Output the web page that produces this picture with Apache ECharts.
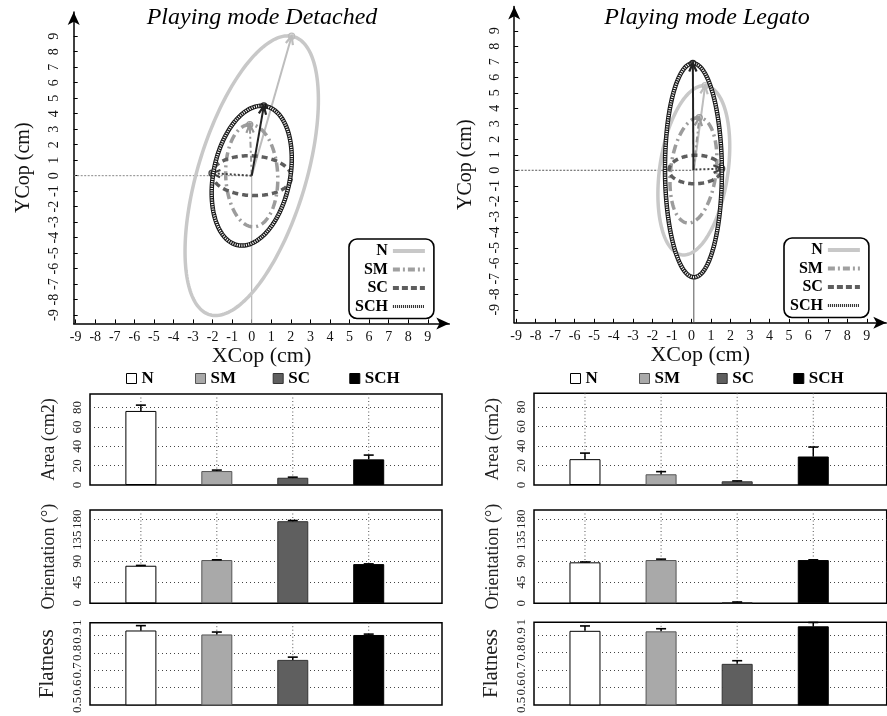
<!DOCTYPE html>
<html><head><meta charset="utf-8">
<script src="https://cdn.jsdelivr.net/npm/echarts@6/dist/echarts.min.js"></script>
<style>html,body{margin:0;padding:0;background:#fff}#c{width:887px;height:716px}</style>
</head><body><div id="c"></div>
<script>
// ---------------- data ----------------
const seriesNames = ['N', 'SM', 'SC', 'SCH'];
const copTicks = [-9, -8, -7, -6, -5, -4, -3, -2, -1, 0, 1, 2, 3, 4, 5, 6, 7, 8, 9];
// ellipse rows: [centreX, centreY, semiMajorX, semiMajorY, semiMinor]  (cm)
const ellipseDetached = [
  [0, 0, 2.04, 9.0, 2.8],
  [0, 0, -0.1, 3.3, 1.33],
  [0, 0, -2.03, 0.16, 1.28],
  [0, 0, 0.62, 4.5, 1.97]
];
const ellipseLegato = [
  [0.12, 0, 0.58, 5.46, 1.76],
  [0.1, 0, 0.3, 3.4, 1.17],
  [0.2, 0.05, 1.35, 0.05, 0.92],
  [0.1, 0, -0.03, 6.9, 1.46]
];
const categoryPos = [1, 2, 3, 4];
const areaDetached = [76.5, 14.4, 7.5, 26.5];
const areaDetachedSD = [6, 1, 0.6, 4.4];
const areaLegato = [26.5, 11, 3.8, 29.2];
const areaLegatoSD = [6.2, 2.7, 0.4, 9.7];
const orientDetached = [80.5, 92.7, 176, 84];
const orientDetachedSD = [0.7, 0.5, 1.5, 0.5];
const orientLegato = [87.8, 92.7, 2, 92.7];
const orientLegatoSD = [0.8, 2, 0.8, 0.5];
const flatDetached = [0.93, 0.907, 0.76, 0.904];
const flatDetachedSD = [0.028, 0.014, 0.016, 0.005];
const flatLegato = [0.926, 0.923, 0.736, 0.952];
const flatLegatoSD = [0.028, 0.015, 0.018, 0.022];
const flatTickLabels = ['0.5', '0.6', '0.7', '0.8', '0.9', '1'];
const panelTitles = ['Playing mode Detached', 'Playing mode Legato'];

// ---------------- styles ----------------
const SERIF = "'Liberation Serif', serif";
const ellStyles = [
  {color: '#c8c8c8', width: 3.5, dash: null, arrow: '#bdbdbd', adash: null},
  {color: '#9c9c9c', width: 3.5, dash: [9, 4, 2, 4], arrow: '#999', adash: [6, 3, 2, 3]},
  {color: '#5e5e5e', width: 3.5, dash: [6, 4], arrow: '#444', adash: [2, 2]},
  {hatch: true, arrow: '#222', adash: null}
];
const barStyles = [
  {color: '#ffffff', borderColor: '#000', borderWidth: 1},
  {color: '#a9a9a9', borderColor: '#555', borderWidth: 1},
  {color: '#5f5f5f', borderColor: '#333', borderWidth: 1},
  {color: '#000000', borderColor: '#000', borderWidth: 1}
];

function ellipseRender(params, api) {
  const cx = api.value(0), cy = api.value(1), ax = api.value(2), ay = api.value(3), b = api.value(4);
  const a = Math.hypot(ax, ay);
  const ux = ax / a, uy = ay / a, vx = -uy, vy = ux;
  const pts = [];
  for (let k = 0; k <= 200; k++) {
    const t = 2 * Math.PI * k / 200;
    pts.push(api.coord([cx + a * Math.cos(t) * ux + b * Math.sin(t) * vx,
                        cy + a * Math.cos(t) * uy + b * Math.sin(t) * vy]));
  }
  const st = ellStyles[params.dataIndex];
  const c0 = api.coord([cx, cy]);
  const c1 = api.coord([cx + ax, cy + ay]);
  const ang = Math.atan2(c1[1] - c0[1], c1[0] - c0[0]);
  const hl = 9, hw = 0.42;
  const h1 = [c1[0] - hl * Math.cos(ang - hw), c1[1] - hl * Math.sin(ang - hw)];
  const h2 = [c1[0] - hl * Math.cos(ang + hw), c1[1] - hl * Math.sin(ang + hw)];
  const ch = [];
  if (st.hatch) {
    ch.push({type: 'polyline', shape: {points: pts}, style: {fill: null, stroke: '#1a1a1a', lineWidth: 4.5}});
    ch.push({type: 'polyline', shape: {points: pts}, style: {fill: null, stroke: '#ffffff', lineWidth: 2.4, lineDash: [1, 1.3]}});
  } else {
    ch.push({type: 'polyline', shape: {points: pts}, style: {fill: null, stroke: st.color, lineWidth: st.width, lineDash: st.dash}});
  }
  ch.push({type: 'line', shape: {x1: c0[0], y1: c0[1], x2: c1[0], y2: c1[1]}, style: {stroke: st.arrow, lineWidth: 2, lineDash: st.adash}});
  ch.push({type: 'polyline', shape: {points: [h1, c1, h2]}, style: {fill: null, stroke: st.arrow, lineWidth: 2.2}});
  ch.push({type: 'circle', shape: {cx: c1[0], cy: c1[1], r: 3}, style: {fill: null, stroke: st.arrow, lineWidth: 1.3}});
  return {type: 'group', children: ch};
}
function makeCrossRender(hColor, vColor) {
  return function (params, api) {
    const cs = params.coordSys;
    const c0 = api.coord([api.value(0), api.value(1)]);
    return {type: 'group', children: [
      {type: 'line', shape: {x1: cs.x, y1: c0[1], x2: c0[0], y2: c0[1]}, style: {stroke: hColor, lineWidth: 1, lineDash: [2, 1.5]}},
      {type: 'line', shape: {x1: c0[0], y1: cs.y + cs.height, x2: c0[0], y2: c0[1]}, style: {stroke: vColor, lineWidth: 1}}
    ]};
  };
}
function errRender(params, api) {
  const x = api.value(0), v = api.value(1), sd = api.value(2);
  const p0 = api.coord([x, v]), p1 = api.coord([x, v + sd]);
  const w = 5;
  return {type: 'group', children: [
    {type: 'line', shape: {x1: p0[0], y1: p0[1], x2: p1[0], y2: p1[1]}, style: {stroke: '#000', lineWidth: 1.5}},
    {type: 'line', shape: {x1: p1[0] - w, y1: p1[1], x2: p1[0] + w, y2: p1[1]}, style: {stroke: '#000', lineWidth: 1.6}}
  ]};
}
function vgridRender(params, api) {
  const cs = params.coordSys;
  const px = api.coord([api.value(0), api.value(1)])[0];
  return {type: 'line', shape: {x1: px, y1: cs.y, x2: px, y2: cs.y + cs.height},
          style: {stroke: '#555', lineWidth: 1, lineDash: [1, 2.5]}};
}

// ---------------- layout ----------------
const grids = [
  {left: 73.7, top: 12, width: 375.6, height: 311.4},
  {left: 514.2, top: 6.6, width: 372.1, height: 316.2},
  {left: 90, top: 394, width: 352, height: 91},
  {left: 90, top: 510, width: 352, height: 93.3},
  {left: 90, top: 622.7, width: 352, height: 90.3},
  {left: 534, top: 393.3, width: 352.7, height: 91.7},
  {left: 534, top: 510, width: 352.7, height: 93.3},
  {left: 534, top: 622.3, width: 352.7, height: 91}
].map(g => Object.assign({show: false, containLabel: false}, g));
grids.slice(2).forEach(g => { g.show = true; g.borderColor = '#000'; g.borderWidth = 1.5; g.backgroundColor = 'transparent'; });

const xAxes = [], yAxes = [];
function copAxes(gi, yMin, yMax, xMin, xMax, xNameGap, yNameGap) {
  xAxes.push({
    gridIndex: gi, type: 'value', min: xMin, max: xMax,
    axisLine: {onZero: false, symbol: ['none', 'arrow'], symbolSize: [9, 13], lineStyle: {color: '#000', width: 1.5}},
    axisTick: {inside: true, length: 4, customValues: copTicks, lineStyle: {color: '#000', width: 1}},
    axisLabel: {customValues: copTicks, fontSize: 14, margin: 7, color: '#111', fontFamily: SERIF},
    splitLine: {show: false},
    name: 'XCop (cm)', nameLocation: 'middle', nameGap: xNameGap,
    nameTextStyle: {fontSize: 22, fontFamily: SERIF, color: '#111'}
  });
  yAxes.push({
    gridIndex: gi, type: 'value', min: yMin, max: yMax,
    axisLine: {onZero: false, symbol: ['none', 'arrow'], symbolSize: [9, 13], lineStyle: {color: '#000', width: 1.5}},
    axisTick: {inside: true, length: 4, customValues: copTicks, lineStyle: {color: '#000', width: 1}},
    axisLabel: {customValues: copTicks, fontSize: 14, margin: 12, rotate: 90, color: '#111', fontFamily: SERIF},
    splitLine: {show: false},
    name: 'YCop (cm)', nameLocation: 'middle', nameGap: yNameGap,
    nameTextStyle: {fontSize: 20, fontFamily: SERIF, color: '#111'}
  });
}
copAxes(0, -9.53, 10.56, -9.1, 10.1, 18, 40);
copAxes(1, -9.84, 10.56, -9.1, 10.0, 15, 38);

function barAxes(gi, yCfg) {
  xAxes.push({gridIndex: gi, type: 'value', min: 0.33, max: 4.965, show: false});
  yAxes.push(Object.assign({
    gridIndex: gi, type: 'value',
    axisLine: {show: false}, axisTick: {show: false},
    splitLine: {show: true, showMinLine: false, showMaxLine: false, lineStyle: {color: '#444', width: 1, type: [1, 3]}},
    nameLocation: 'middle',
    nameTextStyle: {fontSize: 18, fontFamily: SERIF, color: '#222'}
  }, yCfg, {
    axisLabel: Object.assign({rotate: 90, fontSize: 13, margin: 6, color: '#222', fontFamily: SERIF}, yCfg.axisLabel || {})
  }));
}
const areaAx = {min: 0, max: 94, interval: 20, name: 'Area (cm2)', nameGap: 32, axisLabel: {showMaxLabel: false}};
const orientAx = {min: 0, max: 200, interval: 45, name: 'Orientation (°)', nameGap: 32, axisLabel: {showMaxLabel: false}};
const flatAx = {min: 0.5, max: 0.975, interval: 0.1, name: 'Flatness', nameGap: 32,
  nameTextStyle: {fontSize: 21, fontFamily: SERIF, color: '#222'},
  axisLabel: {showMaxLabel: true, formatter: v => v > 0.95 ? flatTickLabels[5] : flatTickLabels[Math.round((v - 0.5) * 10)]}};
[areaAx, orientAx, flatAx, areaAx, orientAx, flatAx].forEach((c, i) => barAxes(i + 2, c));

// ---------------- series ----------------
const series = [];
[[0, ellipseDetached, '#888', '#aaa'], [1, ellipseLegato, '#555', '#555']].forEach(([gi, ell, hc, vc]) => {
  series.push({type: 'custom', xAxisIndex: gi, yAxisIndex: gi, z: 1, silent: true,
    encode: {x: 0, y: 1}, data: [ell[0]], renderItem: makeCrossRender(hc, vc)});
  series.push({type: 'custom', xAxisIndex: gi, yAxisIndex: gi, z: 3, silent: true,
    encode: {x: 0, y: 1}, data: ell, renderItem: ellipseRender});
});
const legendLineStyles = [
  {color: '#c8c8c8', width: 4, type: 'solid'},
  {color: '#a0a0a0', width: 4, type: [7, 3, 2, 3]},
  {color: '#5e5e5e', width: 4, type: [6, 3]},
  {color: '#222', width: 3, type: [1, 1]}
];
seriesNames.forEach((n, i) => series.push({
  type: 'line', name: n + '#', xAxisIndex: 0, yAxisIndex: 0, data: [], symbol: 'none',
  lineStyle: legendLineStyles[i], itemStyle: {color: 'rgba(0,0,0,0)', borderWidth: 0}
}));

const barPanels = [
  [2, areaDetached, areaDetachedSD], [3, orientDetached, orientDetachedSD], [4, flatDetached, flatDetachedSD],
  [5, areaLegato, areaLegatoSD], [6, orientLegato, orientLegatoSD], [7, flatLegato, flatLegatoSD]
];
barPanels.forEach(([gi, vals, sds]) => {
  series.push({type: 'custom', xAxisIndex: gi, yAxisIndex: gi, z: 1, silent: true, encode: {x: 0, y: 1},
    data: categoryPos.map((p, i) => [p, vals[i]]), renderItem: vgridRender});
  seriesNames.forEach((n, i) => series.push({
    type: 'bar', name: n, xAxisIndex: gi, yAxisIndex: gi, z: 2, barWidth: 31, barGap: '-100%',
    data: [[categoryPos[i], vals[i]]], itemStyle: barStyles[i], silent: true
  }));
  series.push({type: 'custom', xAxisIndex: gi, yAxisIndex: gi, z: 4, silent: true, encode: {x: 0, y: 1},
    data: categoryPos.map((p, i) => [p, vals[i], sds[i]]), renderItem: errRender});
});

// ---------------- legends ----------------
const legends = [];
[[349, 239], [784, 238]].forEach(([l, t]) => legends.push({
  orient: 'vertical', align: 'right', left: l, top: t, itemWidth: 32, itemHeight: 14, itemGap: 2.5,
  padding: [4, 7, 4, 6], borderColor: '#000', borderWidth: 1.6, borderRadius: 8, selectedMode: false,
  data: seriesNames.map(n => n + '#'), formatter: n => n.replace('#', ''),
  lineStyle: {width: 'inherit'}, itemStyle: {opacity: 0},
  textStyle: {fontFamily: SERIF, fontWeight: 'bold', fontSize: 16, lineHeight: 14, color: '#000'}
}));
const legendOffsets = [36, 105, 182.7, 259.3];
[90, 534].forEach(boxLeft => seriesNames.forEach((n, i) => legends.push({
  left: boxLeft + legendOffsets[i], top: 370, padding: 0, itemWidth: 10, itemHeight: 10, icon: 'rect',
  selectedMode: false, data: [n], itemStyle: {borderWidth: 1},
  textStyle: {fontFamily: SERIF, fontWeight: 'bold', fontSize: 17, color: '#000'}
})));

const chart = echarts.init(document.getElementById('c'), null, {renderer: 'canvas'});
chart.setOption({
  animation: false,
  backgroundColor: '#fff',
  grid: grids, xAxis: xAxes, yAxis: yAxes, series: series, legend: legends,
  graphic: [
    {type: 'text', x: 262, y: 18, style: {text: panelTitles[0], font: "italic 24px 'Liberation Serif'", textAlign: 'center', textVerticalAlign: 'middle', fill: '#000'}},
    {type: 'text', x: 707, y: 18, style: {text: panelTitles[1], font: "italic 24px 'Liberation Serif'", textAlign: 'center', textVerticalAlign: 'middle', fill: '#000'}}
  ]
});
</script>
</body></html>
